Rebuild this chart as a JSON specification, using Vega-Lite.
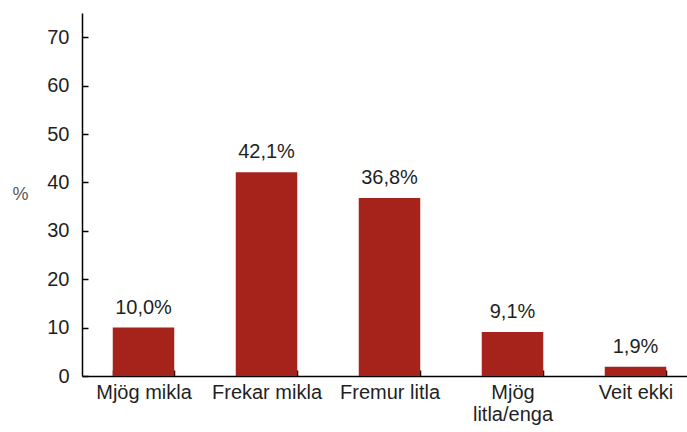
{
  "$schema": "https://vega.github.io/schema/vega-lite/v6.json",
  "autosize": "none",
  "width": 605,
  "height": 363,
  "padding": {"left": 82, "top": 13, "right": 0, "bottom": 56},
  "background": "white",
  "data": {
    "values": [
      {"flokkur": "Mjög mikla", "hlutfall": 10.0, "merki": "10,0%"},
      {"flokkur": "Frekar mikla", "hlutfall": 42.1, "merki": "42,1%"},
      {"flokkur": "Fremur litla", "hlutfall": 36.8, "merki": "36,8%"},
      {"flokkur": "Mjög litla/enga", "hlutfall": 9.1, "merki": "9,1%"},
      {"flokkur": "Veit ekki", "hlutfall": 1.9, "merki": "1,9%"}
    ]
  },
  "encoding": {
    "x": {
      "field": "flokkur",
      "type": "nominal",
      "sort": null,
      "scale": {"range": [0, 615], "paddingInner": 0.5, "paddingOuter": 0.25},
      "axis": {
        "title": null,
        "labelAngle": 0,
        "labelFont": "Liberation Sans",
        "labelFontSize": 20,
        "labelColor": "#1f1f1f",
        "labelPadding": 12,
        "labelLineHeight": 22,
        "labelExpr": "datum.label == 'Mjög litla/enga' ? ['Mjög', 'litla/enga'] : datum.label",
        "tickBand": "extent",
        "tickSize": -6,
        "tickWidth": 1.5,
        "tickColor": "black",
        "domainColor": "black",
        "domainWidth": 1.5,
        "grid": false
      }
    },
    "y": {
      "field": "hlutfall",
      "type": "quantitative",
      "scale": {"domain": [0, 75], "nice": false},
      "axis": {
        "values": [0, 10, 20, 30, 40, 50, 60, 70],
        "title": "%",
        "titleAngle": 0,
        "titleAlign": "center",
        "titleBaseline": "middle",
        "titleX": -62,
        "titleY": 181,
        "titleFont": "Liberation Sans",
        "titleFontSize": 18,
        "titleFontWeight": "normal",
        "titleColor": "#595959",
        "labelFont": "Liberation Sans",
        "labelFontSize": 20,
        "labelColor": "#1f1f1f",
        "labelPadding": 19,
        "tickSize": -6,
        "tickWidth": 1.5,
        "tickColor": "black",
        "domainColor": "black",
        "domainWidth": 1.5,
        "grid": false
      }
    }
  },
  "layer": [
    {"mark": {"type": "bar", "color": "#A5231A"}},
    {
      "mark": {"type": "text", "baseline": "alphabetic", "dy": -14, "font": "Liberation Sans", "fontSize": 20, "color": "#1f1f1f"},
      "encoding": {"text": {"field": "merki"}}
    }
  ],
  "config": {"view": {"stroke": null}}
}
